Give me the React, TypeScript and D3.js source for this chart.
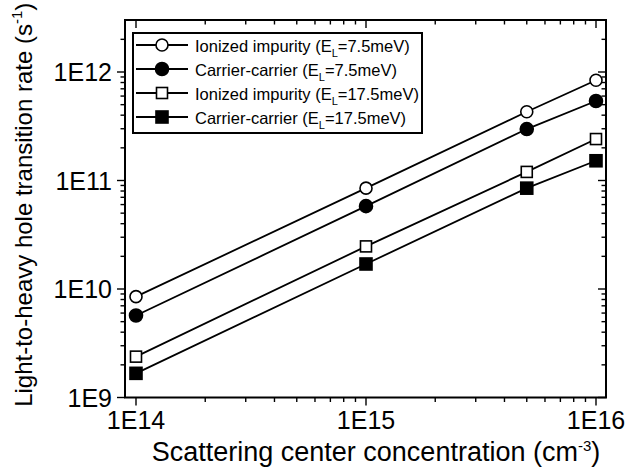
import { useMemo } from 'react';
import * as d3 from 'd3';

// scattering center concentration (cm^-3)
const concentration = [1e14, 1e15, 5e15, 1e16];

const ionized75 = [8.5e9, 8.5e10, 4.3e11, 8.4e11];
const carrier75 = [5.7e9, 5.8e10, 2.98e11, 5.4e11];
const ionized175 = [2.38e9, 2.47e10, 1.2e11, 2.41e11];
const carrier175 = [1.67e9, 1.7e10, 8.5e10, 1.52e11];

const seriesLabels = ['Ionized impurity', 'Carrier-carrier', 'Ionized impurity', 'Carrier-carrier'];
const seriesEnergy = ['7.5meV', '7.5meV', '17.5meV', '17.5meV'];
const seriesMarker = ['circle-open', 'circle', 'square-open', 'square'];

const xTickLabels = ['1E14', '1E15', '1E16'];
const yTickLabels = ['1E9', '1E10', '1E11', '1E12'];

const W = 632;
const H = 469;
const frame = { left: 125, right: 606, top: 20, bottom: 397.5 };
const FONT = '"Liberation Sans", Arial, Helvetica, sans-serif';

function Marker({ kind, x, y }: { kind: string; x: number; y: number }) {
  const open = kind.endsWith('open');
  const fill = open ? '#fff' : '#000';
  if (kind.startsWith('circle')) {
    return <circle cx={x} cy={y} r={open ? 6 : 6.5} fill={fill} stroke="#000" strokeWidth={1.6} />;
  }
  const s = open ? 11 : 12;
  return <rect x={x - s / 2} y={y - s / 2} width={s} height={s} fill={fill} stroke="#000" strokeWidth={1.6} />;
}

export default function App() {
  const x = useMemo(() => d3.scaleLog().domain([1e14, 1e16]).range([136, 596]), []);
  const y = useMemo(() => d3.scaleLog().domain([1e9, 1e12]).range([frame.bottom, 72]), []);

  const series = [ionized75, carrier75, ionized175, carrier175];
  const line = d3
    .line<number>()
    .x((_, i) => x(concentration[i]))
    .y((d) => y(d));

  // log ticks (major at decades, minor at 2..9) that fall inside the frame
  const xTicks: { v: number; major: boolean }[] = [];
  for (let e = 13; e <= 16; e++) {
    for (let m = 1; m <= 9; m++) {
      const v = m * Math.pow(10, e);
      const px = x(v);
      if (px >= frame.left + 0.5 && px <= frame.right - 0.5) xTicks.push({ v, major: m === 1 });
    }
  }
  const yTicks: { v: number; major: boolean }[] = [];
  for (let e = 9; e <= 12; e++) {
    for (let m = 1; m <= 9; m++) {
      const v = m * Math.pow(10, e);
      const py = y(v);
      if (py <= frame.bottom + 0.1 && py >= frame.top + 0.5) yTicks.push({ v, major: m === 1 });
    }
  }

  const legend = { x: 133, y: 33, w: 289, h: 100, row: 24 };

  return (
    <svg
      width={W}
      height={H}
      style={{ position: 'absolute', left: 0, top: 0, background: '#fff' }}
      fontFamily={FONT}
    >
      <rect width={W} height={H} fill="#fff" />

      {/* ticks */}
      <g stroke="#000" strokeWidth={1.4}>
        {xTicks.map((t, i) => (
          <g key={'x' + i}>
            <line x1={x(t.v)} x2={x(t.v)} y1={frame.bottom} y2={frame.bottom + (t.major ? 8 : 4.5)} />
            <line x1={x(t.v)} x2={x(t.v)} y1={frame.top} y2={frame.top + (t.major ? 8 : 4.5)} />
          </g>
        ))}
        {yTicks.map((t, i) => (
          <g key={'y' + i}>
            <line x1={frame.left} x2={frame.left - (t.major ? 8 : 4.5)} y1={y(t.v)} y2={y(t.v)} />
            <line x1={frame.right} x2={frame.right - (t.major ? 8 : 4.5)} y1={y(t.v)} y2={y(t.v)} />
          </g>
        ))}
      </g>

      {/* frame */}
      <rect
        x={frame.left}
        y={frame.top}
        width={frame.right - frame.left}
        height={frame.bottom - frame.top}
        fill="none"
        stroke="#000"
        strokeWidth={2}
      />

      {/* tick labels */}
      <g fontSize={25} fill="#000">
        {xTickLabels.map((l, i) => (
          <text key={l} x={x(Math.pow(10, 14 + i))} y={429} textAnchor="middle">
            {l}
          </text>
        ))}
        {yTickLabels.map((l, i) => (
          <text key={l} x={112} y={y(Math.pow(10, 9 + i)) + 9} textAnchor="end">
            {l}
          </text>
        ))}
      </g>

      {/* axis titles */}
      <text x={376} y={461} textAnchor="middle" fontSize={27}>
        Scattering center concentration (cm
        <tspan dy={-10} fontSize={15}>-3</tspan>
        <tspan dy={10}>)</tspan>
      </text>
      <text
        transform={`translate(32, ${(frame.top + frame.bottom) / 2 - 4}) rotate(-90)`}
        textAnchor="middle"
        fontSize={24}
      >
        Light-to-heavy hole transition rate (s
        <tspan dy={-10} fontSize={15}>-1</tspan>
        <tspan dy={10}>)</tspan>
      </text>

      {/* series */}
      {series.map((s, si) => (
        <g key={'s' + si}>
          <path d={line(s) ?? ''} fill="none" stroke="#000" strokeWidth={1.8} />
          {s.map((v, i) => (
            <Marker key={i} kind={seriesMarker[si]} x={x(concentration[i])} y={y(v)} />
          ))}
        </g>
      ))}

      {/* legend */}
      <rect x={legend.x} y={legend.y} width={legend.w} height={legend.h} fill="#fff" stroke="#000" strokeWidth={2} />
      {seriesLabels.map((l, i) => {
        const cy = legend.y + 12 + i * legend.row;
        return (
          <g key={'l' + i}>
            <line x1={legend.x + 3} x2={legend.x + 55} y1={cy} y2={cy} stroke="#000" strokeWidth={1.8} />
            <Marker kind={seriesMarker[i]} x={legend.x + 29} y={cy} />
            <text x={legend.x + 62} y={cy + 6.5} fontSize={16.5}>
              {l} (E
              <tspan dy={5} fontSize={11}>L</tspan>
              <tspan dy={-5}>={seriesEnergy[i]})</tspan>
            </text>
          </g>
        );
      })}
    </svg>
  );
}
